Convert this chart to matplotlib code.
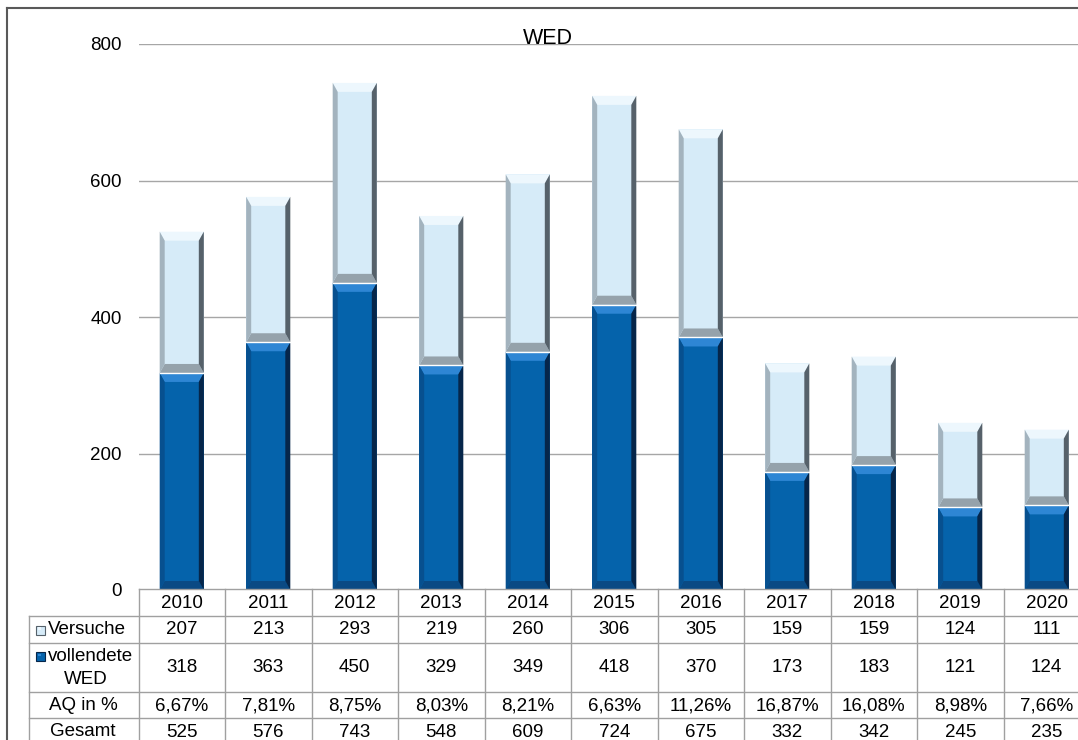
import matplotlib
matplotlib.use("Agg")
import matplotlib.pyplot as plt
import matplotlib.transforms as mtransforms
from matplotlib.patches import Polygon, Rectangle
from matplotlib.lines import Line2D

plt.rcParams['font.family'] = ['Liberation Sans', 'DejaVu Sans']

years = ['2010', '2011', '2012', '2013', '2014', '2015', '2016', '2017', '2018', '2019', '2020']
versuche = [207, 213, 293, 219, 260, 306, 305, 159, 159, 124, 111]
vollendete = [318, 363, 450, 329, 349, 418, 370, 173, 183, 121, 124]
aq = ['6,67%', '7,81%', '8,75%', '8,03%', '8,21%', '6,63%', '11,26%', '16,87%', '16,08%', '8,98%', '7,66%']
gesamt = [525, 576, 743, 548, 609, 724, 675, 332, 342, 245, 235]

W, H = 1078, 740
fig = plt.figure(figsize=(W / 100, H / 100), dpi=100)


def fx(px):
    return px / W


def fy(py):
    return 1 - py / H


# plot area: 11 categories, 86.5 px each, runs past the right edge
ax_l, ax_t, ax_b = 138.5, 44, 590
col_w = 86.5
ax = fig.add_axes([fx(ax_l), fy(ax_b), 11 * col_w / W, (ax_b - ax_t) / H])
ax.set_xlim(-0.5, 10.5)
ax.set_ylim(0, 800)
ax.set_yticks([0, 200, 400, 600, 800])
ax.tick_params(axis='y', length=0, pad=12, labelsize=13.5)
ax.set_xticks([])
for s in ax.spines.values():
    s.set_visible(False)
ax.grid(axis='y', color='#A6A6A6', lw=1)
ax.set_axisbelow(True)

bar_w = 0.51
ux = 1 / col_w                 # one pixel in x data units
uy = 800 / (ax_b - ax_t)       # one pixel in y data units
bs, bt = 5, 9                  # side / top bevel in pixels

dark = dict(face='#0563AB', top='#2E86D4', left='#07508F', right='#06264A', bottom='#0A4A84')
light = dict(face='#D6EBF8', top='#EDF7FD', left='#A3B3BE', right='#56616A', bottom='#95A2AB')


def bevel_bar(x, y0, y1, c):
    x0, x1 = x - bar_w / 2, x + bar_w / 2
    dx, dy = bs * ux, bt * uy
    ax.add_patch(Rectangle((x0, y0), x1 - x0, y1 - y0, fc=c['face'], ec='none', zorder=2))
    polys = [
        ([(x0, y1), (x1, y1), (x1 - dx, y1 - dy), (x0 + dx, y1 - dy)], c['top']),
        ([(x0, y0), (x1, y0), (x1 - dx, y0 + dy), (x0 + dx, y0 + dy)], c['bottom']),
        ([(x0, y0), (x0, y1), (x0 + dx, y1 - dy), (x0 + dx, y0 + dy)], c['left']),
        ([(x1, y0), (x1, y1), (x1 - dx, y1 - dy), (x1 - dx, y0 + dy)], c['right']),
    ]
    for pts, col in polys:
        ax.add_patch(Polygon(pts, closed=True, fc=col, ec='none', zorder=3))


for i in range(len(years)):
    bevel_bar(i, 0, vollendete[i], dark)
    bevel_bar(i, vollendete[i], vollendete[i] + versuche[i], light)
    ax.plot([i - bar_w / 2, i + bar_w / 2], [vollendete[i]] * 2, color='white', lw=1, zorder=4)

fig.text(fx(548), fy(44), 'WED', ha='center', va='baseline', fontsize=15.5)

# outer frame
fig.add_artist(Line2D([fx(7), fx(7)], [fy(8), 0], color='#595959', lw=1.5))
fig.add_artist(Line2D([fx(7), 1], [fy(8), fy(8)], color='#595959', lw=1.5))

# data table
lc, lw = '#A0A0A0', 1
rows = [589, 615.5, 642.5, 691.5, 718, 744.5]
lab_l, lab_r = 29, 138.5
blend = mtransforms.blended_transform_factory(ax.transData, fig.transFigure)

for k, ry in enumerate(rows):
    x_start = lab_r if k == 0 else lab_l
    fig.add_artist(Line2D([fx(x_start), 1], [fy(ry), fy(ry)], color=lc, lw=lw))
fig.add_artist(Line2D([fx(lab_l), fx(lab_l)], [fy(rows[1]), 0], color=lc, lw=lw))
for i in range(len(years) + 1):
    fig.add_artist(Line2D([i - 0.5, i - 0.5], [fy(rows[0]), 0], color=lc, lw=lw,
                          transform=blend, clip_on=False))

fs = 13.5
row_vals = [years, versuche, vollendete, aq, gesamt]
for r, vals in enumerate(row_vals):
    yc = fy((rows[r] + rows[r + 1]) / 2 + 1)
    for i, v in enumerate(vals):
        fig.text(i, yc, str(v), ha='center', va='center', fontsize=fs, transform=blend)


def key(px, py, c):
    s = 9
    fig.add_artist(Rectangle((fx(px), fy(py + s)), s / W, s / H, fc=c['face'],
                             ec=c['right'], lw=0.8, transform=fig.transFigure))
    fig.add_artist(Rectangle((fx(px + 1.5), fy(py + 4)), 3 / W, 2.5 / H, fc=c['top'],
                             ec='none', transform=fig.transFigure))


key(36, 625.5, light)
fig.text(fx(48), fy(630), 'Versuche', ha='left', va='center', fontsize=fs)
key(36, 652, dark)
fig.text(fx(48), fy(656.5), 'vollendete', ha='left', va='center', fontsize=fs)
fig.text(fx(86), fy(679), 'WED', ha='center', va='center', fontsize=fs)
fig.text(fx(83), fy(705), 'AQ in %', ha='center', va='center', fontsize=fs)
fig.text(fx(83), fy(732), 'Gesamt', ha='center', va='center', fontsize=fs)

fig.savefig('out.png', dpi=100)
